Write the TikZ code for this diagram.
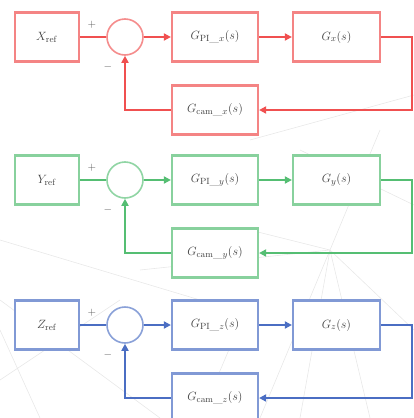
\documentclass[tikz,border=0pt]{standalone}
\usetikzlibrary{arrows.meta}
\definecolor{lred}{RGB}{240,80,80}
\definecolor{lgreen}{RGB}{85,190,115}
\definecolor{lblue}{RGB}{75,110,195}
\definecolor{netgray}{RGB}{232,232,232}
\begin{document}
\begin{tikzpicture}[x=1pt,y=-1pt,
  blk/.style={draw=#1!70, line width=2.2pt, fill=white, minimum height=49pt,
    inner sep=0pt, text=black!75, font=\fontsize{13}{15}\selectfont},
  sumnode/.style={draw=#1!65, line width=1.6pt, circle, minimum size=36pt,
    inner sep=0pt, fill=white},
  wire/.style={draw=#1, line width=1.9pt},
  arr/.style={wire=#1, -{Triangle[length=7pt,width=7pt]}},
  sgn/.style={font=\fontsize{11}{13}\selectfont, text=black!65}]
\useasboundingbox (0,0) rectangle (414,418);

% faint network lines in the background
\begin{scope}[netgray, line width=0.6pt]
  \draw (250,140) -- (414,95) (300,150) -- (414,205) (330,250) -- (260,418)
        (330,250) -- (300,418) (330,250) -- (370,418) (330,250) -- (414,330)
        (330,250) -- (250,230) (0,240) -- (200,300) (0,300) -- (160,418)
        (0,380) -- (120,300) (40,418) -- (0,330) (140,270) -- (330,250)
        (380,130) -- (330,250) (200,418) -- (250,300);
\end{scope}

\foreach \c/\A/\a/\yy in {lred/X/x/37, lgreen/Y/y/180, lblue/Z/z/325} {
  \node[blk=\c, minimum width=64pt] (ref\a) at (47,\yy) {$\A_{\mathrm{ref}}$};
  \node[sumnode=\c] (sum\a) at (125,\yy) {};
  \node[blk=\c, minimum width=86pt] (pi\a) at (215,\yy) {$G_{\mathrm{PI}\_\a}(s)$};
  \node[blk=\c, minimum width=87pt] (pl\a) at (336.5,\yy) {$G_{\a}(s)$};
  \node[blk=\c, minimum width=86pt] (fb\a) at (215,\yy+73) {$G_{\mathrm{cam}\_\a}(s)$};
  \coordinate (rt\a) at (412,\yy);
  \coordinate (rb\a) at (412,\yy+73);
  \node[sgn] (plus\a) at (92,\yy-12) {$+$};
  \node[sgn] (minus\a) at (108,\yy+30) {$-$};

  \draw[wire=\c] (ref\a) -- (sum\a);
  \draw[arr=\c] (sum\a) -- (pi\a);
  \draw[arr=\c] (pi\a) -- (pl\a);
  \draw[arr=\c] (pl\a.east) -- (rt\a) -- (rb\a) -- (fb\a.east);
  \draw[arr=\c] (fb\a.west) -| (sum\a.south);
}
\end{tikzpicture}
\end{document}
